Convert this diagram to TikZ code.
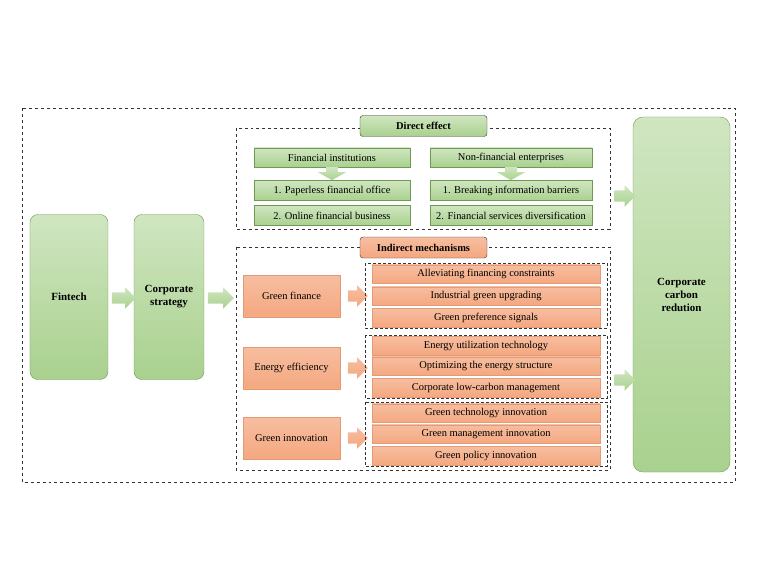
\documentclass[tikz,border=0pt]{standalone}
\usepackage{fontspec}
\setmainfont{Liberation Serif}
\usetikzlibrary{positioning,shapes.arrows,shadings}
\definecolor{grnfill}{HTML}{A9D18E}
\definecolor{grnline}{HTML}{6E9A52}
\definecolor{orgfill}{HTML}{F4A880}
\definecolor{orgline}{HTML}{E39A76}
\tikzset{
  gbox/.style={draw=grnline,top color=grnfill!55,bottom color=grnfill,inner sep=0pt,font=\fontsize{10.5}{12}\selectfont},
  obox/.style={draw=orgline,top color=orgfill!75,bottom color=orgfill,inner sep=0pt,font=\fontsize{10.5}{12}\selectfont},
  frame/.style={draw=black!80,dashed,thick},
  sarrow/.style={single arrow,minimum height=#1,inner xsep=0pt,inner ysep=5.5bp,single arrow head extend=5bp,shape border rotate=0},
  darrow/.style={top color=grnfill!55,bottom color=grnfill},
}
\begin{document}
\begin{tikzpicture}[x=1bp,y=-1bp]
  \useasboundingbox (0,0) rectangle (760,570);
  % outer frame
  \draw[frame,thin] (22,108) rectangle (735,482);
  % left column
  \node[gbox,rounded corners=8pt,minimum width=78bp,minimum height=165bp,font=\bfseries\fontsize{11}{13}\selectfont] (fintech) at (69,297) {Fintech};
  \node[gbox,rounded corners=8pt,minimum width=70bp,minimum height=165bp,align=center,font=\bfseries\fontsize{11}{13}\selectfont] (strategy) at (169,297) {Corporate\\strategy};
  \node[gbox,rounded corners=10pt,minimum width=97bp,minimum height=355bp,align=center,font=\bfseries\fontsize{11}{13}\selectfont] (carbon) at (681.5,294.5) {Corporate\\carbon\\redution};
  \node[gbox,draw=none,sarrow=24bp] (a1) at (121,298) {};
  \node[gbox,draw=none,sarrow=26bp] (a2) at (218,298) {};
  % direct effect
  \draw[frame] (236,128) rectangle (610,229);
  \node[gbox,rounded corners=3pt,draw=black!80,minimum width=127bp,minimum height=21bp,font=\bfseries\fontsize{10.5}{12}\selectfont] (direct) at (423.5,126) {Direct effect};
  \node[gbox,minimum width=156bp,minimum height=19bp] (fin) at (332,157.5) {Financial institutions};
  \node[gbox,minimum width=156bp,minimum height=20bp] (paper) at (332,190.5) {1. Paperless financial office};
  \node[gbox,minimum width=156bp,minimum height=20bp] (online) at (332,215.5) {2. Online financial business};
  \node[gbox,minimum width=162bp,minimum height=19bp] (nonfin) at (511,157.5) {Non-financial enterprises};
  \node[gbox,minimum width=162bp,minimum height=20bp] (barrier) at (511,190.5) {1. Breaking information barriers};
  \node[gbox,minimum width=162bp,minimum height=20bp] (divers) at (511,215.5) {2. Financial services diversification};
  \foreach \top in {fin,nonfin}
    \shade[darrow] (\top.south) ++(-6,0) -- ++(12,0) -- ++(0,5) -- ++(8,0) -- ++(-14,8) -- ++(-14,-8) -- ++(8,0) -- cycle;
  % indirect mechanisms
  \draw[frame] (236,247) rectangle (610,470);
  \node[obox,rounded corners=3pt,draw=black!80,minimum width=127bp,minimum height=21bp,font=\bfseries\fontsize{10.5}{12}\selectfont] (indirect) at (423.5,247.5) {Indirect mechanisms};
  \foreach \name/\lab/\y in {gfin/Green finance/296,eeff/Energy efficiency/368,ginn/Green innovation/438}{
    \node[obox,minimum width=97bp,minimum height=42bp] (\name) at (291.5,\y) {\lab};
    \node[obox,draw=none,sarrow=20bp] (\name-arr) at (355,\y) {};
  }
  \foreach \yt/\yb in {263/328,335/398,402/466}
    \draw[densely dashed,black!80,thick] (365,\yt) rectangle (607,\yb);
  \foreach \name/\lab/\y in {
      m11/Alleviating financing constraints/274,
      m12/Industrial green upgrading/296,
      m13/Green preference signals/317.5,
      m21/Energy utilization technology/345.5,
      m22/Optimizing the energy structure/366,
      m23/Corporate low-carbon management/387.5,
      m31/Green technology innovation/413,
      m32/Green management innovation/434,
      m33/Green policy innovation/455.5}
    \node[obox,minimum width=228bp,minimum height=18.5bp] (\name) at (486,\y) {\lab};
  % into carbon reduction
  \node[gbox,draw=none,sarrow=21bp] (c1) at (622,196) {};
  \node[gbox,draw=none,sarrow=21bp] (c2) at (622,380) {};
\end{tikzpicture}
\end{document}
